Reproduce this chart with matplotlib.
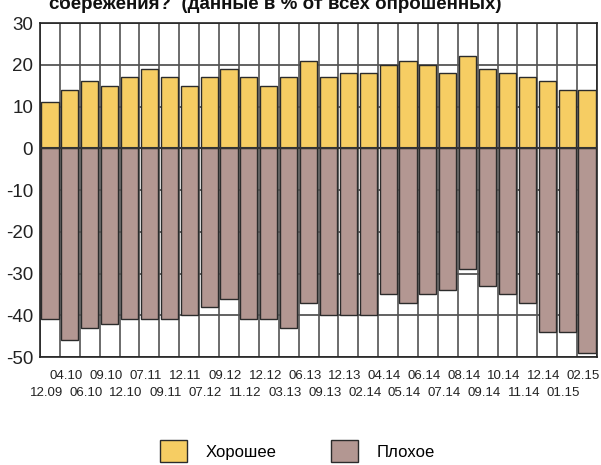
import numpy as np
import matplotlib
matplotlib.use("Agg")
import matplotlib.pyplot as plt
from matplotlib.patches import Patch

plt.rcParams['font.family'] = ['Liberation Sans', 'DejaVu Sans']

periods = ["12.09","04.10","06.10","09.10","12.10","07.11","09.11","12.11","07.12","09.12",
           "11.12","12.12","03.13","06.13","09.13","12.13","02.14","04.14","05.14","06.14",
           "07.14","08.14","09.14","10.14","11.14","12.14","01.15","02.15"]
good = [11,14,16,15,17,19,17,15,17,19,17,15,17,21,17,18,18,20,21,20,18,22,19,18,17,16,14,14]
bad = [-41,-46,-43,-42,-41,-41,-41,-40,-38,-36,-41,-41,-43,-37,-40,-40,-40,-35,-37,-35,
       -34,-29,-33,-35,-37,-44,-44,-49]
yticks = [30,20,10,0,-10,-20,-30,-40,-50]

c_good = "#F6CD63"
c_bad = "#B39792"
edge = "#2b2b2b"

fig = plt.figure(figsize=(6.01,4.65), dpi=100)
ax = fig.add_axes([40/601, 1-357/465, 557/601, 334/465])

x = np.arange(len(periods))
ax.bar(x, good, width=0.86, color=c_good, edgecolor=edge, linewidth=1, zorder=3)
ax.bar(x, bad, width=0.86, color=c_bad, edgecolor=edge, linewidth=1, zorder=3)

ax.set_xlim(-0.5, len(periods)-0.5)
ax.set_ylim(-50, 30)
for b in np.arange(-0.5, len(periods)):
    ax.axvline(b, color="#444444", lw=1.1, zorder=1)
for t in yticks:
    ax.axhline(t, color="#555555", lw=1.3, zorder=2)
ax.axhline(0, color="#333333", lw=1.5, zorder=4)

ax.set_yticks(yticks)
ax.set_yticklabels([str(t) for t in yticks], fontsize=13.5, color="#222222")
ax.tick_params(axis='y', length=0, pad=5)
ax.set_xticks([])
for s in ax.spines.values():
    s.set_color("#222222")
    s.set_linewidth(1.2)

# period labels in two staggered rows
for i, p in enumerate(periods):
    yy = -54.6 if i % 2 == 1 else -58.7
    ax.text(i - 0.18, yy, p, ha='center', va='center', fontsize=9.5, color="#222222")

handles = [Patch(facecolor=c_good, edgecolor=edge, label="Хорошее"),
           Patch(facecolor=c_bad, edgecolor=edge, label="Плохое")]
fig.legend(handles=handles, loc='center', bbox_to_anchor=(0.495, 0.03), ncol=2,
           frameon=False, fontsize=12, handlelength=1.6, handleheight=1.6,
           handletextpad=1.1, columnspacing=3.3)

fig.text(0.4576, 1-9/465, "сбережения?  (данные в % от всех опрошенных)", ha='center', va='baseline',
         fontsize=13.5, fontweight='bold', color="#111111")

fig.savefig("out.png", dpi=100)
